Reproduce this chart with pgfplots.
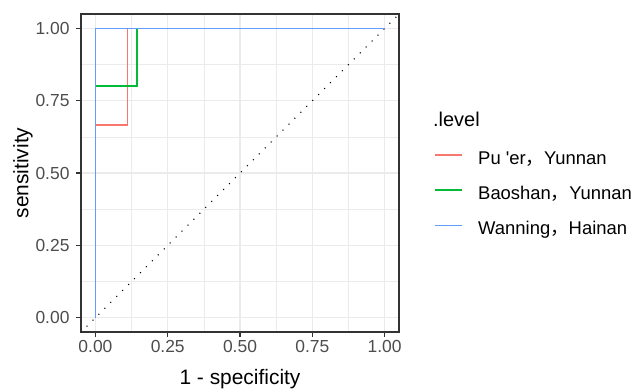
\documentclass[border=0pt]{standalone}
\usepackage{pgfplots}
\pgfplotsset{compat=1.18}
\usepackage{fontspec}
\setmainfont{Liberation Sans}
\newfontfamily\noligs{Liberation Sans}[Ligatures=TeXOff]
\newfontfamily\cjk{Noto Sans CJK SC}
\definecolor{cred}{HTML}{F8766D}
\definecolor{cgreen}{HTML}{00BA38}
\definecolor{cblue}{HTML}{619CFF}
\definecolor{gtick}{HTML}{4D4D4D}
\definecolor{gborder}{HTML}{333333}
\definecolor{ggrid}{HTML}{EBEBEB}
\begin{document}
\begin{tikzpicture}[x=1bp,y=1bp]
\useasboundingbox (0,0) rectangle (635,388);
\begin{axis}[
  at={(81bp,56bp)}, anchor=south west,
  scale only axis, width=318bp, height=318bp,
  xmin=-0.05, xmax=1.05, ymin=-0.05, ymax=1.05,
  xtick={0,0.25,0.5,0.75,1}, ytick={0,0.25,0.5,0.75,1},
  minor tick num=1,
  minor tick length=0pt,
  major tick length=5bp,
  tick align=outside,
  tick pos=left,
  grid=both,
  major grid style={draw=ggrid, line width=1.1bp},
  minor grid style={draw=ggrid, line width=0.6bp},
  axis line style={draw=gborder, line width=1.2bp},
  major tick style={draw=gborder, line width=1.2bp},
  /pgf/number format/assume math mode=true,
  /pgf/number format/.cd, fixed, fixed zerofill, precision=2, /pgfplots/.cd,
  tick label style={font=\fontsize{17.5}{17.5}\selectfont, text=gtick},
  yticklabel style={xshift=-3bp},
  axis on top=false,
]
\addplot[black, line width=1.5bp, line cap=round, dash pattern=on 0bp off 8.4bp] coordinates {(-0.05,-0.05) (1.05,1.05)};
\addplot[cred, line width=1.6bp] coordinates {(0,0) (0,0.6667) (0.1111,0.6667) (0.1111,1) (1,1)};
\addplot[cgreen, line width=1.6bp] coordinates {(0,0) (0,0.8) (0.1429,0.8) (0.1429,1) (1,1)};
\addplot[cblue, line width=1.6bp] coordinates {(0,0) (0,1) (1,1)};
\end{axis}
\node[anchor=base, font=\fontsize{21}{21}\selectfont] at (240,3.7) {1 - specificity};
\node[anchor=base, rotate=90, font=\fontsize{21}{21}\selectfont] at (28.3,215) {sensitivity};
\node[anchor=base west, inner sep=0, font=\fontsize{20}{20}\selectfont] at (433,261.3) {.level};
\draw[cred, line width=1.6bp] (435,233) -- (462,233);
\draw[cgreen, line width=1.6bp] (435,198) -- (462,198);
\draw[cblue, line width=1.6bp] (435,162.5) -- (462,162.5);
\node[anchor=base west, inner sep=0, font=\fontsize{18.5}{18.5}\selectfont] at (478,223.7) {Pu {\noligs '}er{\cjk ，}Yunnan};
\node[anchor=base west, inner sep=0, font=\fontsize{18.5}{18.5}\selectfont] at (478,188.7) {Baoshan{\cjk ，}Yunnan};
\node[anchor=base west, inner sep=0, font=\fontsize{18.5}{18.5}\selectfont] at (478,153.2) {Wanning{\cjk ，}Hainan};
\end{tikzpicture}
\end{document}
